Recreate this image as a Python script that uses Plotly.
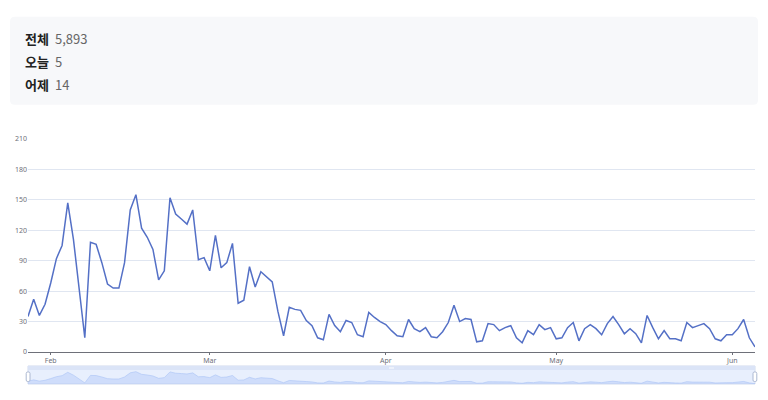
import plotly.graph_objects as go
import pandas as pd

# ---- data ----
start_date = "2023-01-28"
end_date = "2023-06-05"
visits = [
    35, 52, 36, 47, 68, 92, 105, 147, 111, 65,
    14, 108, 106, 88, 67, 63, 63, 88, 140, 155,
    122, 113, 101, 71, 80, 152, 136, 131, 126, 140,
    91, 93, 80, 115, 83, 88, 107, 48, 51, 84,
    64, 79, 74, 69, 40, 16, 44, 42, 41, 31,
    26, 14, 12, 37, 26, 20, 31, 29, 17, 15,
    39, 34, 30, 27, 21, 16, 15, 32, 23, 20,
    24, 15, 14, 20, 29, 46, 30, 33, 32, 10,
    11, 28, 27, 21, 24, 26, 14, 9, 21, 17,
    27, 22, 24, 13, 14, 24, 29, 11, 23, 27,
    23, 17, 28, 35, 27, 18, 23, 18, 9, 36,
    24, 13, 21, 13, 13, 11, 29, 24, 26, 28,
    23, 13, 11, 17, 17, 23, 32, 14, 5,
]
month_ticks = ["2023-02-01", "2023-03-01", "2023-04-01", "2023-05-01", "2023-06-01"]
month_labels = ["Feb", "Mar", "Apr", "May", "Jun"]
y_ticks = [0, 30, 60, 90, 120, 150, 180, 210]
summary_labels = ["전체", "오늘", "어제"]
summary_values = ["5,893", "5", "14"]

dates = pd.date_range(start_date, end_date, freq="D")

# page body has an 8px margin: figure is drawn from (8, 8); keep it inside the window
OFF = 8
W, H = 768 - 2 * OFF, 400 - 2 * OFF
# vertical calibration of the photographed page
VA, VB = 5.4, 0.976


def px(x):
    return (x - OFF) / W


def py(y):
    raw = (y - VA) / VB
    return 1 - (raw - OFF) / H


def rounded_rect(x0, y0, x1, y1, r):
    rx, ry = r / W, r / H
    X0, X1 = px(x0), px(x1)
    Y0, Y1 = py(y0), py(y1)
    return (
        f"M {X0+rx},{Y0} L {X1-rx},{Y0} Q {X1},{Y0} {X1},{Y0-ry} "
        f"L {X1},{Y1+ry} Q {X1},{Y1} {X1-rx},{Y1} "
        f"L {X0+rx},{Y1} Q {X0},{Y1} {X0},{Y1+ry} "
        f"L {X0},{Y0-ry} Q {X0},{Y0} {X0+rx},{Y0} Z"
    )


fig = go.Figure()

fig.add_trace(go.Scatter(
    x=dates, y=visits, mode="lines",
    line=dict(color="#5470c6", width=1.5),
    xaxis="x", yaxis="y", showlegend=False, hoverinfo="x+y",
))

# overview (data zoom) area
fig.add_trace(go.Scatter(
    x=dates, y=visits, mode="lines", fill="tozeroy",
    fillcolor="rgba(143,176,247,0.28)",
    line=dict(color="#a9c2f5", width=0.6),
    xaxis="x2", yaxis="y2", showlegend=False, hoverinfo="skip",
))

PL, PR = 28, 755
shapes = [
    dict(type="path", path=rounded_rect(10, 17, 758, 105, 5), xref="paper", yref="paper",
         fillcolor="#f7f8fa", line=dict(width=0), layer="below"),
    dict(type="rect", xref="paper", yref="paper", x0=px(PL), x1=px(PR), y0=py(384), y1=py(366),
         fillcolor="#e8effd", line=dict(color="#d2dbee", width=1), layer="below"),
    dict(type="rect", xref="paper", yref="paper", x0=px(PL), x1=px(PR), y0=py(370), y1=py(366),
         fillcolor="#dbe4f7", line=dict(width=0), layer="below"),
    dict(type="line", xref="paper", yref="paper", x0=px(389), x1=px(394), y0=py(368), y1=py(368),
         line=dict(color="#ffffff", width=1), layer="above"),
    dict(type="path", path=rounded_rect(26.2, 372, 30, 381.5, 1.5), xref="paper", yref="paper",
         fillcolor="#ffffff", line=dict(color="#acb8d1", width=1), layer="above"),
    dict(type="path", path=rounded_rect(753, 372, 756.8, 381.5, 1.5), xref="paper", yref="paper",
         fillcolor="#ffffff", line=dict(color="#acb8d1", width=1), layer="above"),
]

annotations = []
row_y = [39, 62, 85]
for lab, val, yy in zip(summary_labels, summary_values, row_y):
    annotations.append(dict(
        text=f"<b>{lab}</b>", x=px(23), y=py(yy), xref="paper", yref="paper",
        xanchor="left", yanchor="middle", showarrow=False,
        font=dict(family="Noto Sans CJK KR", size=13, color="#222222"),
    ))
    annotations.append(dict(
        text=val, x=px(53), y=py(yy), xref="paper", yref="paper",
        xanchor="left", yanchor="middle", showarrow=False,
        font=dict(family="Noto Sans CJK KR", size=13, color="#666666"),
    ))

tick_font = dict(family="Noto Sans, sans-serif", size=7, color="#6e7079")

fig.update_layout(
    width=W, height=H,
    margin=dict(l=0, r=0, t=0, b=0),
    paper_bgcolor="#ffffff", plot_bgcolor="#ffffff",
    shapes=shapes, annotations=annotations,
    showlegend=False,
    xaxis=dict(
        domain=[px(PL), px(PR)], anchor="y",
        range=[dates[0], dates[-1]],
        tickvals=month_ticks, ticktext=month_labels,
        showgrid=False, showline=True, linecolor="#6e7079", linewidth=1,
        ticks="outside", ticklen=2, tickcolor="#6e7079",
        tickfont=tick_font, zeroline=False, fixedrange=True,
    ),
    yaxis=dict(
        domain=[py(352), py(139)], anchor="x",
        range=[0, 210], tickvals=y_ticks,
        showgrid=True, gridcolor="#e0e6f1", gridwidth=1,
        zeroline=False, showline=False, ticks="",
        tickfont=tick_font, fixedrange=True,
    ),
    xaxis2=dict(
        domain=[px(PL), px(PR)], anchor="y2",
        range=[dates[0], dates[-1]], visible=False, fixedrange=True,
    ),
    yaxis2=dict(
        domain=[py(384), py(370)], anchor="x2",
        range=[0, 176], visible=False, fixedrange=True,
    ),
)

fig.write_html("out.html")
